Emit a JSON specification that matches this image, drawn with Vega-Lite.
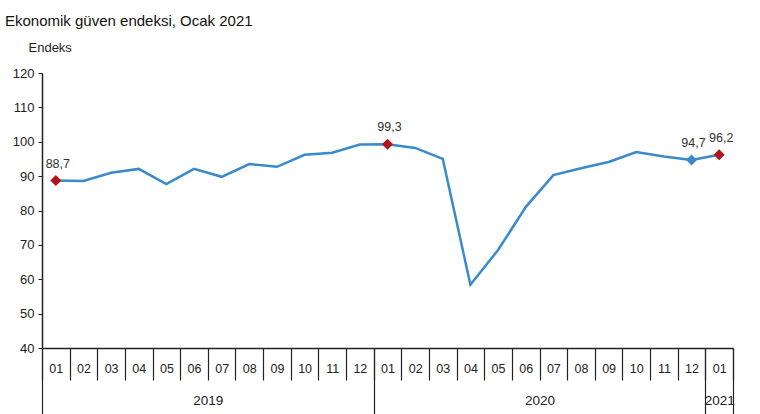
{
  "$schema": "https://vega.github.io/schema/vega-lite/v6.json",
  "width": 691,
  "height": 275,
  "autosize": "none",
  "padding": {"left": 42, "top": 73, "right": 27, "bottom": 66},
  "background": "white",
  "config": {
    "view": {"stroke": null},
    "font": "Liberation Sans"
  },
  "title": {
    "text": "Ekonomik güven endeksi, Ocak 2021",
    "anchor": "start",
    "frame": "group",
    "fontSize": 15,
    "fontWeight": "normal",
    "color": "#111111",
    "dx": -37,
    "offset": 12
  },
  "datasets": {
    "series": [
      {"m": "2019-01", "v": 88.7},
      {"m": "2019-02", "v": 88.6},
      {"m": "2019-03", "v": 91.0},
      {"m": "2019-04", "v": 92.1},
      {"m": "2019-05", "v": 87.7},
      {"m": "2019-06", "v": 92.1},
      {"m": "2019-07", "v": 89.8},
      {"m": "2019-08", "v": 93.5},
      {"m": "2019-09", "v": 92.7},
      {"m": "2019-10", "v": 96.2},
      {"m": "2019-11", "v": 96.8},
      {"m": "2019-12", "v": 99.2},
      {"m": "2020-01", "v": 99.3},
      {"m": "2020-02", "v": 98.2},
      {"m": "2020-03", "v": 95.0},
      {"m": "2020-04", "v": 58.4},
      {"m": "2020-05", "v": 68.5},
      {"m": "2020-06", "v": 81.0},
      {"m": "2020-07", "v": 90.3},
      {"m": "2020-08", "v": 92.3},
      {"m": "2020-09", "v": 94.1},
      {"m": "2020-10", "v": 97.0},
      {"m": "2020-11", "v": 95.7},
      {"m": "2020-12", "v": 94.7},
      {"m": "2021-01", "v": 96.2}
    ],
    "marked": [
      {"m": "2019-01", "v": 88.7, "lbl": "88,7", "kind": "ocak"},
      {"m": "2020-01", "v": 99.3, "lbl": "99,3", "kind": "ocak"},
      {"m": "2020-12", "v": 94.7, "lbl": "94,7", "kind": "onceki"},
      {"m": "2021-01", "v": 96.2, "lbl": "96,2", "kind": "ocak"}
    ]
  },
  "resolve": {"scale": {"x": "independent"}, "axis": {"x": "independent"}},
  "layer": [
    {
      "data": {"name": "series"},
      "encoding": {
        "x": {
          "field": "m", "type": "ordinal",
          "scale": {"type": "band", "paddingInner": 0, "paddingOuter": 0},
          "axis": {
            "orient": "bottom", "title": null,
            "labelExpr": "datum.value ? substring(datum.value, 5, 7) : ''",
            "labelAngle": 0,
            "tickBand": "extent",
            "tickSize": 32, "tickColor": "#222222", "tickWidth": 1.2,
            "domainColor": "#222222", "domainWidth": 1.5,
            "labelPadding": -12, "labelFontSize": 12.5, "labelColor": "#222222",
            "labelBaseline": "middle"
          }
        },
        "y": {
          "field": "v", "type": "quantitative",
          "scale": {"domain": [40, 120], "nice": false, "zero": false},
          "axis": {
            "values": [40, 50, 60, 70, 80, 90, 100, 110, 120],
            "labelOverlap": false,
            "grid": false,
            "title": "Endeks", "titleAngle": 0, "titleAlign": "left",
            "titleBaseline": "middle", "titleX": -14, "titleY": -26,
            "titleFontSize": 13, "titleFontWeight": "normal", "titleColor": "#222222",
            "tickSize": 4, "tickColor": "#222222", "labelPadding": 4,
            "labelFontSize": 13, "labelColor": "#222222",
            "domainColor": "#222222", "domainWidth": 1.5
          }
        }
      },
      "layer": [
        {
          "mark": {"type": "line", "color": "#3a8acb", "strokeWidth": 2.5}
        },
        {
          "data": {"name": "marked"},
          "mark": {"type": "point", "shape": "diamond", "filled": true, "opacity": 1, "size": 120},
          "encoding": {
            "color": {
              "field": "kind", "type": "nominal",
              "scale": {"domain": ["ocak", "onceki"], "range": ["#b5121b", "#3a8acb"]},
              "legend": null
            }
          }
        },
        {
          "data": {"name": "marked"},
          "mark": {"type": "text", "dy": -10, "dx": 2, "fontSize": 12.5, "color": "#333333", "baseline": "bottom"},
          "encoding": {
            "text": {"field": "lbl"}
          }
        }
      ]
    },
    {
      "mark": {"type": "text", "opacity": 0, "text": ""},
      "encoding": {
        "x": {
          "datum": 0, "type": "quantitative",
          "scale": {"domain": [0, 25], "nice": false, "zero": false},
          "axis": {
            "orient": "bottom", "title": null, "values": [0, 12, 24, 25],
            "labels": false, "domain": false, "grid": false,
            "tickSize": 66, "tickColor": "#222222", "tickWidth": 1.2
          }
        }
      }
    },
    {
      "mark": {"type": "text", "opacity": 0, "text": ""},
      "encoding": {
        "x": {
          "datum": 0, "type": "quantitative",
          "scale": {"domain": [0, 25], "nice": false, "zero": false},
          "axis": {
            "orient": "bottom", "title": null, "values": [6, 18, 24.5],
            "labelExpr": "datum.value == 6 ? '2019' : datum.value == 18 ? '2020' : '2021'",
            "ticks": false, "domain": false, "grid": false,
            "labelPadding": 52, "labelBaseline": "middle",
            "labelFontSize": 13.5, "labelColor": "#222222", "labelFlush": false, "labelOverlap": false
          }
        }
      }
    }
  ]
}
